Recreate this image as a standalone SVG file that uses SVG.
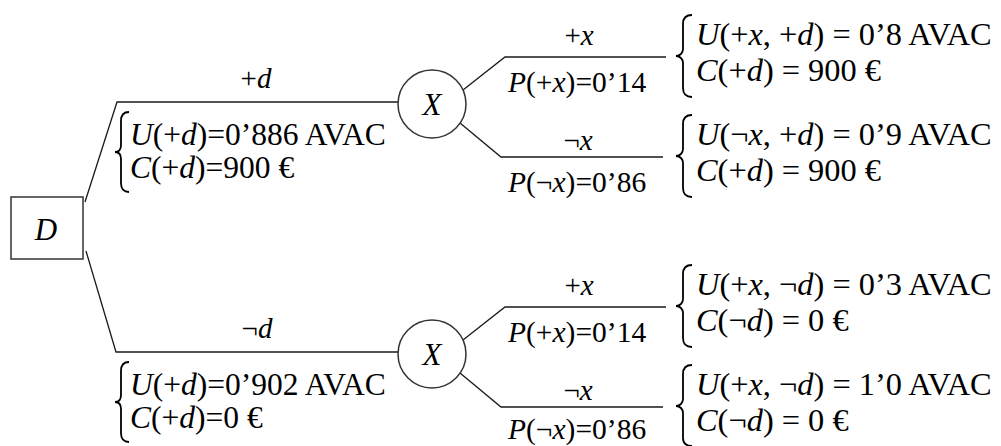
<svg xmlns="http://www.w3.org/2000/svg" width="1001" height="446" viewBox="0 0 1001 446">
<style>
.ln{stroke:#1a1a1a;stroke-width:1.3;fill:none}
.br{stroke:#000;stroke-width:1.8;fill:none}
.node{stroke:#333;stroke-width:1.5;fill:#fff}
text{font-family:"Liberation Serif","Times New Roman",serif;fill:#000}
.b{font-size:31.5px}
.r{font-size:32.4px}
.p{font-size:29.5px}
.l{font-size:29px}
.n{font-size:31px;font-style:italic}
.i{font-style:italic}
</style>
<rect width="1001" height="446" fill="#fff"/>
<g id="connectors">
<polyline class="ln" points="85,202 117,102 398,102"/>
<polyline class="ln" points="86,251 116,352 398,352"/>
<polyline class="ln" points="463,90 505,57 666,57"/>
<polyline class="ln" points="460,123 501,157 663,157"/>
<polyline class="ln" points="463,340 505,307 666,307"/>
<polyline class="ln" points="460,373 501,407 663,407"/>
</g>
<g id="node-D">
<rect class="node" x="11" y="197" width="72" height="62"/>
<text class="n" x="46" y="240" text-anchor="middle">D</text>
</g>
<g id="node-X1">
<circle class="node" cx="432" cy="104" r="34"/>
<text class="n" x="432" y="115" text-anchor="middle">X</text>
</g>
<g id="node-X2">
<circle class="node" cx="432" cy="354" r="34"/>
<text class="n" x="432" y="365" text-anchor="middle">X</text>
</g>
<g id="branch-labels">
<text class="l" x="256" y="88" text-anchor="middle">+<tspan class="i">d</tspan></text>
<text class="l" x="257" y="338" text-anchor="middle">¬<tspan class="i">d</tspan></text>
<text class="l" x="579" y="45" text-anchor="middle">+<tspan class="i">x</tspan></text>
<text class="l" x="578" y="150" text-anchor="middle">¬<tspan class="i">x</tspan></text>
<text class="l" x="579" y="295" text-anchor="middle">+<tspan class="i">x</tspan></text>
<text class="l" x="578" y="400" text-anchor="middle">¬<tspan class="i">x</tspan></text>
<text class="p" x="508" y="92"><tspan class="i">P</tspan>(+<tspan class="i">x</tspan>)=0’14</text>
<text class="p" x="508" y="192"><tspan class="i">P</tspan>(¬<tspan class="i">x</tspan>)=0’86</text>
<text class="p" x="508" y="342"><tspan class="i">P</tspan>(+<tspan class="i">x</tspan>)=0’14</text>
<text class="p" x="508" y="439"><tspan class="i">P</tspan>(¬<tspan class="i">x</tspan>)=0’86</text>
</g>
<g id="decision-plus-d">
<path class="br" d="M129,112 C124,112 121,115 121,121 L121,145 C121,149 119,152 115,152 C119,152 121,155 121,159 L121,183 C121,189 124,192 129,192"/>
<text class="b" x="130" y="145"><tspan class="i">U</tspan>(+<tspan class="i">d</tspan>)=0’886 AVAC</text>
<text class="b" x="130" y="178"><tspan class="i">C</tspan>(+<tspan class="i">d</tspan>)=900 €</text>
</g>
<g id="decision-not-d">
<path class="br" d="M129,362 C124,362 121,365 121,371 L121,395 C121,399 119,402 115,402 C119,402 121,405 121,409 L121,433 C121,439 124,442 129,442"/>
<text class="b" x="130" y="395"><tspan class="i">U</tspan>(+<tspan class="i">d</tspan>)=0’902 AVAC</text>
<text class="b" x="130" y="428"><tspan class="i">C</tspan>(+<tspan class="i">d</tspan>)=0 €</text>
</g>
<g id="outcome-1">
<path class="br" d="M692,15 C686,15 683,18 683,24 L683,49 C683,53 680,56 676,56 C680,56 683,59 683,63 L683,88 C683,94 686,97 692,97"/>
<text class="r" x="696" y="45"><tspan class="i">U</tspan>(+<tspan class="i">x</tspan>, +<tspan class="i">d</tspan>) = 0’8 AVAC</text>
<text class="r" x="696" y="81"><tspan class="i">C</tspan>(+<tspan class="i">d</tspan>) = 900 €</text>
</g>
<g id="outcome-2">
<path class="br" d="M692,115 C686,115 683,118 683,124 L683,149 C683,153 680,156 676,156 C680,156 683,159 683,163 L683,188 C683,194 686,197 692,197"/>
<text class="r" x="696" y="145"><tspan class="i">U</tspan>(¬<tspan class="i">x</tspan>, +<tspan class="i">d</tspan>) = 0’9 AVAC</text>
<text class="r" x="696" y="181"><tspan class="i">C</tspan>(+<tspan class="i">d</tspan>) = 900 €</text>
</g>
<g id="outcome-3">
<path class="br" d="M692,265 C686,265 683,268 683,274 L683,299 C683,303 680,306 676,306 C680,306 683,309 683,313 L683,338 C683,344 686,347 692,347"/>
<text class="r" x="696" y="295"><tspan class="i">U</tspan>(+<tspan class="i">x</tspan>, ¬<tspan class="i">d</tspan>) = 0’3 AVAC</text>
<text class="r" x="696" y="331"><tspan class="i">C</tspan>(¬<tspan class="i">d</tspan>) = 0 €</text>
</g>
<g id="outcome-4">
<path class="br" d="M692,365 C686,365 683,368 683,374 L683,399 C683,403 680,406 676,406 C680,406 683,409 683,413 L683,438 C683,444 686,446 692,446"/>
<text class="r" x="696" y="395"><tspan class="i">U</tspan>(+<tspan class="i">x</tspan>, ¬<tspan class="i">d</tspan>) = 1’0 AVAC</text>
<text class="r" x="696" y="431"><tspan class="i">C</tspan>(¬<tspan class="i">d</tspan>) = 0 €</text>
</g>
</svg>
